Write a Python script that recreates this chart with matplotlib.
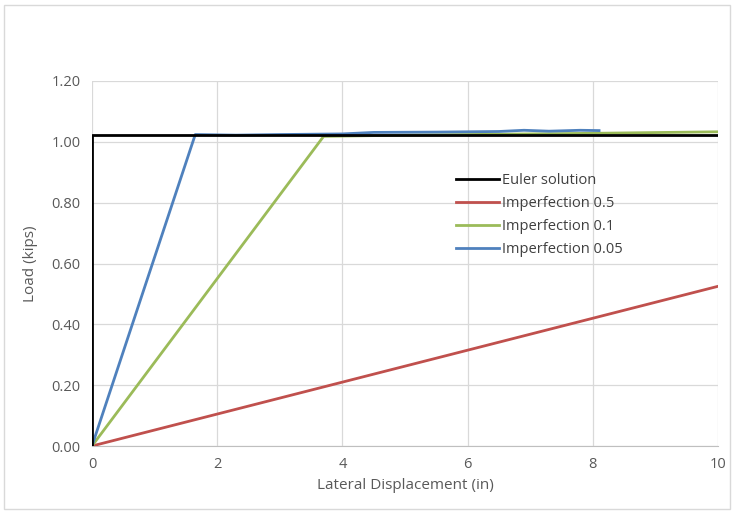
import matplotlib
matplotlib.use("Agg")
import matplotlib.pyplot as plt
from matplotlib.patches import Rectangle

plt.rcParams['font.family'] = ['Open Sans', 'DejaVu Sans']

euler_x = [0, 0, 10]
euler_y = [0, 1.022, 1.022]
imp05_x = [0, 10]
imp05_y = [0, 0.525]
imp01_x = [0, 3.7, 5, 8, 10]
imp01_y = [0, 1.018, 1.022, 1.028, 1.033]
imp005_x = [0, 1.65, 2.3, 3.0, 4.0, 4.5, 5.5, 6.5, 6.9, 7.3, 7.8, 8.1]
imp005_y = [0, 1.024, 1.022, 1.024, 1.026, 1.031, 1.032, 1.034, 1.038, 1.035, 1.038, 1.037]

xticks = [0, 2, 4, 6, 8, 10]
yticks = [0.0, 0.2, 0.4, 0.6, 0.8, 1.0, 1.2]

fig = plt.figure(figsize=(7.34, 5.12), dpi=100)
fig.patches.append(Rectangle((0.006, 0.006), 0.988, 0.985, transform=fig.transFigure,
                             fill=False, edgecolor='#d9d9d9', linewidth=1))
ax = fig.add_axes([0.1253, 0.1289, 0.8529, 0.7129])

ax.plot(euler_x, euler_y, color='#000000', lw=2, label='Euler solution', zorder=5)
ax.plot(imp05_x, imp05_y, color='#c0504d', lw=2, label='Imperfection 0.5', zorder=3)
ax.plot(imp01_x, imp01_y, color='#9bbb59', lw=2, label='Imperfection 0.1', zorder=3)
ax.plot(imp005_x, imp005_y, color='#4f81bd', lw=2, label='Imperfection 0.05', zorder=4)

ax.set_xlim(0, 10)
ax.set_ylim(0, 1.2)
ax.set_xticks(xticks)
ax.set_yticks(yticks)
ax.set_xticklabels([str(v) for v in xticks])
ax.set_yticklabels([f"{v:.2f}" for v in yticks])
ax.grid(True, color='#d9d9d9', lw=0.9)
ax.set_axisbelow(True)
for s in ['top', 'right', 'left']:
    ax.spines[s].set_visible(False)
ax.spines['bottom'].set_color('#bfbfbf')
ax.tick_params(length=0, colors='#595959', labelsize=10.5, pad=8)
ax.set_xlabel('Lateral Displacement (in)', color='#595959', fontsize=11, labelpad=4)
ax.set_ylabel('Load (kips)', color='#595959', fontsize=11, labelpad=10)

leg = ax.legend(loc='upper left', bbox_to_anchor=(0.603, 0.687), bbox_transform=fig.transFigure,
                frameon=False, fontsize=10.5, handlelength=3.0, handletextpad=0.2,
                labelspacing=0.55)
for t in leg.get_texts():
    t.set_color('#404040')

fig.savefig('out.png', dpi=100)
